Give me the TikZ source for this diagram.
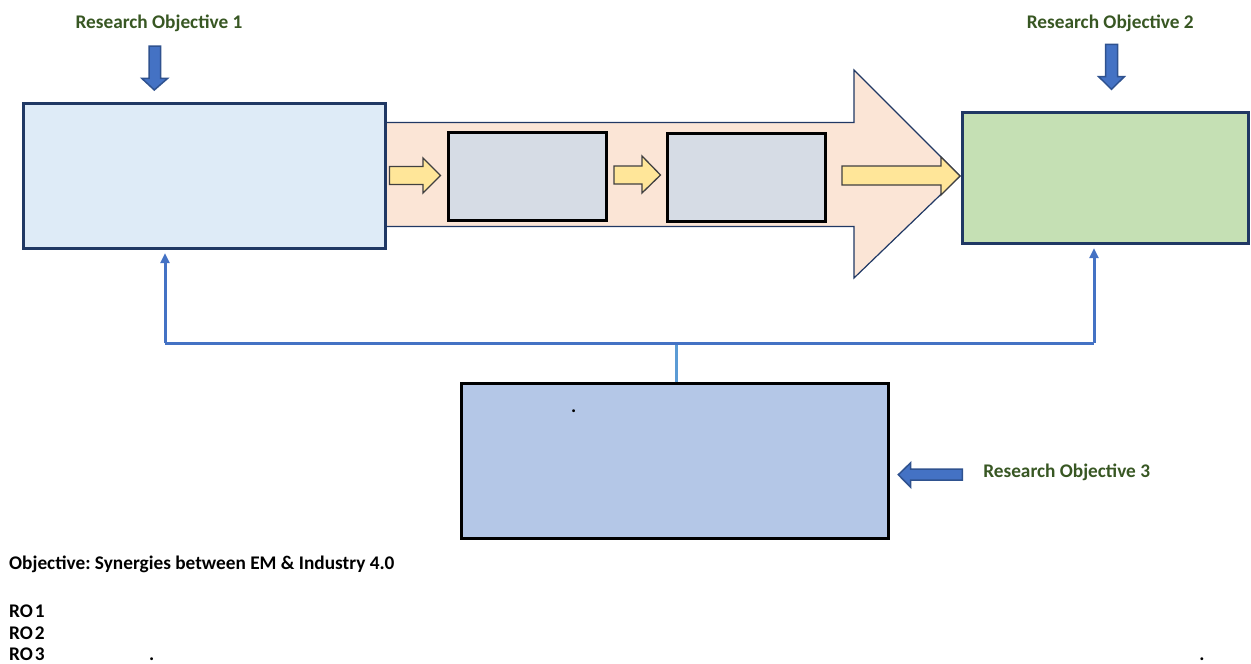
\documentclass[tikz,border=0pt]{standalone}
\usepackage{fontspec}
\setmainfont{Carlito}
\usetikzlibrary{arrows.meta}
\definecolor{labgreen}{HTML}{385723}
\definecolor{navy}{HTML}{203864}
\definecolor{arrblue}{HTML}{4472C4}
\definecolor{arrblueline}{HTML}{2F528F}
\definecolor{boxone}{HTML}{DEEBF7}
\definecolor{peach}{HTML}{FBE5D6}
\definecolor{greyfill}{HTML}{D6DCE5}
\definecolor{yellowfill}{HTML}{FFE699}
\definecolor{greenfill}{HTML}{C5E0B4}
\definecolor{boxthree}{HTML}{B4C7E7}
\definecolor{stemblue}{HTML}{5B9BD5}
\begin{document}
\frenchspacing
\begin{tikzpicture}[x=1pt,y=-1pt,
  txt/.style={font=\fontsize{19.3}{23}\selectfont\bfseries, inner sep=0pt},
  rolabel/.style={txt, text=labgreen},
  navybox/.style={draw=navy, line width=2.8pt, inner sep=0pt},
  blackbox/.style={draw=black, line width=3pt, inner sep=0pt},
  bluearrow/.style={fill=arrblue, draw=arrblueline, line width=1.5pt, line join=miter},
  yellowarrow/.style={fill=yellowfill, draw=black!75, line width=1.3pt},
  fb/.style={draw=arrblue, line width=3pt},
  fbtip/.style={-{Triangle[length=10pt,width=9pt]}, shorten >=3pt}
]
\useasboundingbox (0,0) rectangle (1251,664);

% big peach process arrow
\path[fill=peach, draw=navy, line width=1.2pt]
  (386,122.5) -- (854,122.5) -- (854,70) -- (960,176) -- (854,278) -- (854,226.5) -- (386,226.5);

% boxes
\node[navybox, fill=boxone, minimum width=362pt, minimum height=145pt] (box1) at (204.75,176.25) {};
\node[navybox, fill=greenfill, minimum width=286pt, minimum height=131pt] (box2) at (1105.25,178.25) {};
\node[blackbox, fill=greyfill, minimum width=158pt, minimum height=88pt] (boxa) at (527.5,176.25) {};
\node[blackbox, fill=greyfill, minimum width=158pt, minimum height=88pt] (boxb) at (746.75,177.5) {};
\node[blackbox, fill=boxthree, minimum width=427pt, minimum height=155pt] (box3) at (674.75,461.25) {};

% yellow block arrows
\path[yellowarrow] (389.5,166.5) -- (423,166.5) -- (423,158) -- (440.5,175.5) -- (423,193) -- (423,184.5) -- (389.5,184.5) -- cycle;
\path[yellowarrow] (614,166) -- (642,166) -- (642,156) -- (660.5,175) -- (642,193) -- (642,184) -- (614,184) -- cycle;
\path[yellowarrow] (842,166) -- (941,166) -- (941,157) -- (960,176) -- (941,195) -- (941,185) -- (842,185) -- cycle;

% labels
\node[rolabel] (ro1) at (159,23.3) {Research Objective 1};
\node[rolabel] (ro2) at (1110.3,23) {Research Objective 2};
\node[rolabel] (ro3) at (1066.7,472.7) {Research Objective 3};

% blue block arrows
\path[bluearrow] (149,46) -- (160.7,46) -- (160.7,78.3) -- (167.7,78.3) -- (154.3,90) -- (141.7,78.3) -- (149,78.3) -- cycle;
\path[bluearrow] (1105.7,44.3) -- (1117.7,44.3) -- (1117.7,76.7) -- (1124.3,76.7) -- (1111.5,89.3) -- (1098.7,76.7) -- (1105.7,76.7) -- cycle;
\path[bluearrow] (962.3,469) -- (910.7,469) -- (910.7,462.7) -- (898.3,474.7) -- (910.7,487.3) -- (910.7,480) -- (962.3,480) -- cycle;

% feedback connectors
\coordinate (jl) at (165,343);
\coordinate (jr) at (1094,343);
\coordinate (jn) at (676,343);
\draw[draw=stemblue, line width=3pt] (box3.north -| jn) -- (jn);
\draw[fb] (jl) -- (jr);
\draw[fb, fbtip] (jl) -- (jl |- box1.south);
\draw[fb, fbtip] (jr) -- (jr |- box2.south);

% dots
\node[txt, anchor=base] (dot1) at (573.7,412) {.};
\node[txt, anchor=base] (dot2) at (151.7,660.5) {.};
\node[txt, anchor=base] (dot3) at (1202,660.5) {.};

% bottom text
\node[txt, anchor=base west] (obj) at (9,569) {Objective: Synergies between EM \& Industry 4.0};
\node[txt, anchor=base west] (r1) at (9,617) {RO\kern2pt 1};
\node[txt, anchor=base west] (r2) at (9,639) {RO\kern2pt 2};
\node[txt, anchor=base west] (r3) at (9,660.5) {RO\kern2pt 3};
\end{tikzpicture}
\end{document}
